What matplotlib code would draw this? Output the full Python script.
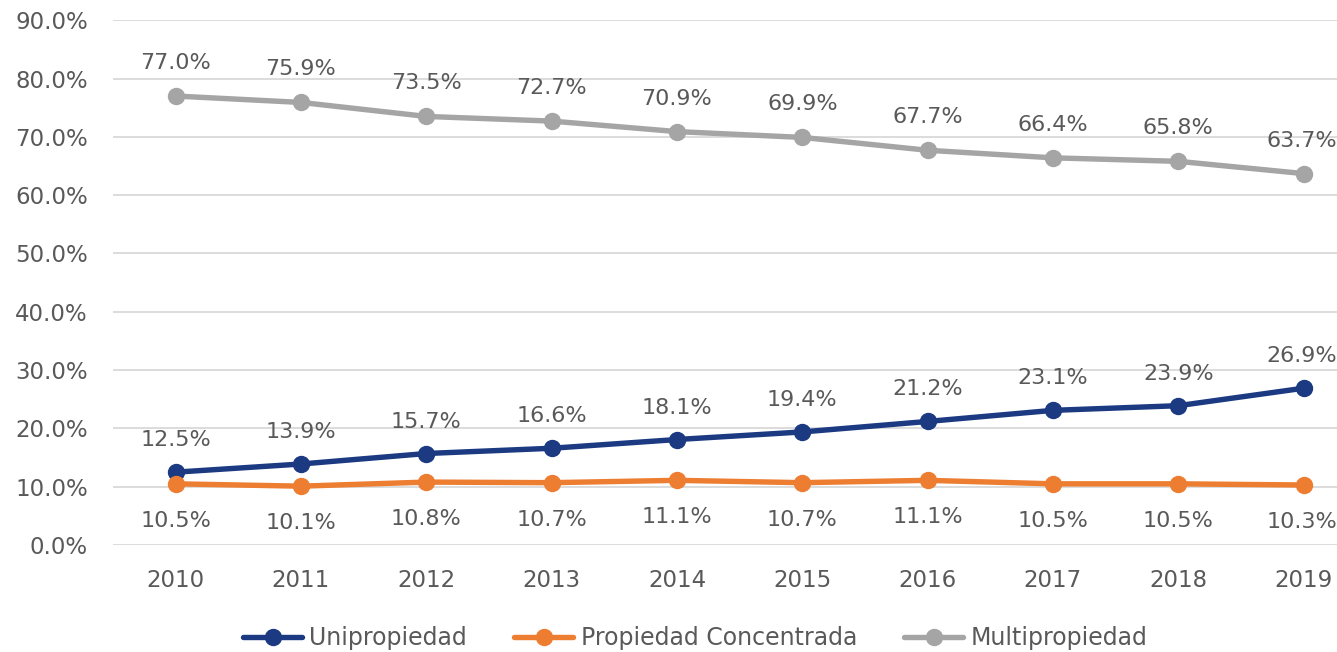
import numpy as np
import matplotlib.pyplot as plt

years = ["2010", "2011", "2012", "2013", "2014", "2015", "2016", "2017", "2018", "2019"]
unipropiedad = [12.5, 13.9, 15.7, 16.6, 18.1, 19.4, 21.2, 23.1, 23.9, 26.9]
concentrada = [10.5, 10.1, 10.8, 10.7, 11.1, 10.7, 11.1, 10.5, 10.5, 10.3]
multipropiedad = [77.0, 75.9, 73.5, 72.7, 70.9, 69.9, 67.7, 66.4, 65.8, 63.7]
yticks = [0, 10, 20, 30, 40, 50, 60, 70, 80, 90]

plt.rcParams['font.family'] = ['DejaVu Sans']
txt = '#595959'

fig = plt.figure(figsize=(13.37, 6.52), dpi=100)
ax = fig.add_axes([0.0845, 0.164, 0.9155, 0.805])

x = np.arange(len(years))
series = [
    (unipropiedad, '#1c3a82', 'Unipropiedad', 32),
    (concentrada, '#ed7d31', 'Propiedad Concentrada', -37),
    (multipropiedad, '#a5a5a5', 'Multipropiedad', 33),
]
for vals, col, name, off in series:
    ax.plot(x, vals, color=col, lw=3.9, marker='o', ms=11.5, label=name,
            solid_capstyle='round', zorder=3)
    for xi, v in zip(x, vals):
        ax.annotate(f"{v:.1f}%", (xi, v), xytext=(-1.5 if xi == 9 else 0, off * 0.72),
                    textcoords='offset points', ha='center', va='center',
                    fontsize=16, color=txt)

ax.set_xlim(-0.5, 9.266)
ax.set_ylim(0, 90)
ax.set_yticks(yticks)
ax.set_yticklabels([f"{t:.1f}%" for t in yticks])
ax.set_xticks(x)
ax.set_xticklabels(years)
ax.grid(axis='y', color='#d9d9d9', lw=1.3)
ax.set_axisbelow(True)
for s in ax.spines.values():
    s.set_visible(False)
ax.tick_params(length=0, labelsize=16.5, labelcolor=txt)
ax.tick_params(axis='x', pad=17)
ax.tick_params(axis='y', pad=18)

leg = fig.legend(loc='lower center', bbox_to_anchor=(0.52, -0.03), ncol=3,
                 frameon=False, fontsize=17, handlelength=2.5,
                 handletextpad=0.3, columnspacing=2.0)
for t in leg.get_texts():
    t.set_color(txt)

fig.savefig('out.png', dpi=100)
